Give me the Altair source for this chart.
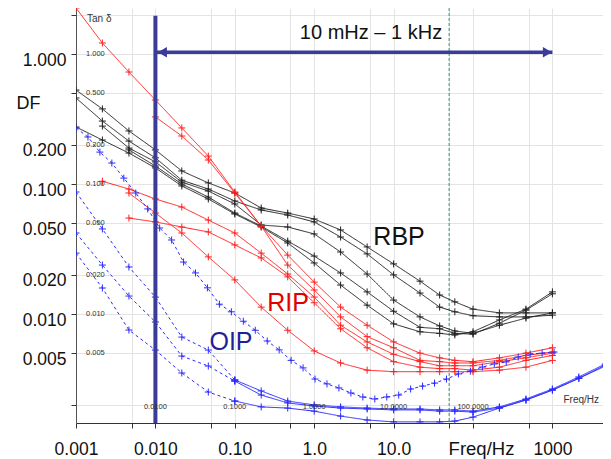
import altair as alt
import pandas as pd

FONT = "Liberation Sans"

# measurement frequencies (Hz), 3 points per decade (50 Hz region measured at 38 / 59 Hz)
FREQ = [0.001, 0.00215, 0.00464, 0.01, 0.0215, 0.0464, 0.1, 0.215, 0.464, 1.0, 2.15, 4.64,
        10.0, 21.5, 38.0, 59.0, 100.0, 215.0, 464.0, 1000.0, 2150.0, 4640.0]
# dense sweep (sqrt(2) steps) of the first OIP curve
FREQ_DENSE = [0.001, 0.001414, 0.002, 0.002828, 0.004, 0.005657, 0.008, 0.01131, 0.016, 0.02263,
              0.032, 0.04525, 0.064, 0.0905, 0.128, 0.181, 0.256, 0.362, 0.512, 0.724, 1.024,
              1.448, 2.048, 2.896, 4.096, 5.793, 8.192, 11.59, 16.38, 23.17, 32.77, 46.34,
              65.54, 92.68, 131.1, 185.4, 262.1, 370.7, 524.3, 741.5, 1048.6]

# RBP (black) – start index into FREQ, values
RBP_1_START, RBP_1 = 0, [0.528, 0.378, 0.256, 0.183, 0.126, 0.102, 0.0853, 0.0654, 0.0598, 0.0538,
                         0.0443, 0.0328, 0.0243, 0.0179, 0.014, 0.0124, 0.0109, 0.0102, 0.0102, 0.0102]
RBP_2_START, RBP_2 = 0, [0.459, 0.305, 0.214, 0.159, 0.107, 0.0915, 0.074, 0.0631, 0.0577, 0.0511,
                         0.0391, 0.029, 0.020, 0.0145, 0.0113, 0.0104, 0.0097, 0.0095, 0.0095, 0.0098]
RBP_3_START, RBP_3 = 1, [0.279, 0.189, 0.148, 0.1035, 0.0883, 0.0702, 0.0484, 0.0467, 0.0413, 0.030,
                         0.0203, 0.0128, 0.0095, 0.0081, 0.0074, 0.0071, 0.0082, 0.0093, 0.0102]
RBP_4_START, RBP_4 = 2, [0.183, 0.1375, 0.100, 0.0794, 0.0598, 0.0475, 0.0364, 0.0279, 0.0207, 0.0148,
                         0.0105, 0.0079, 0.0077, 0.0071, 0.0070, 0.0085, 0.0107, 0.0143]
RBP_5_START, RBP_5 = 0, [0.2745, 0.218, 0.173, 0.133, 0.0966, 0.0767, 0.0588, 0.0467, 0.0352, 0.0247,
                         0.0167, 0.0117, 0.0084, 0.0073, 0.0071, 0.0069, 0.0073, 0.0090, 0.0109, 0.0148]

# RIP (red)
RIP_1_START, RIP_1 = 0, [2.26, 1.215, 0.727, 0.443, 0.270, 0.164, 0.0868, 0.0475, 0.0284, 0.0176,
                         0.0113, 0.0082, 0.0061, 0.0050, 0.0046, 0.0044, 0.0043, 0.0046, 0.0050, 0.0055]
RIP_2_START, RIP_2 = 3, [0.328, 0.234, 0.153, 0.0853, 0.0475, 0.0238, 0.0153, 0.0095, 0.0067, 0.0055,
                         0.0044, 0.0043, 0.0042, 0.0042, 0.0044, 0.0048, 0.0051]
RIP_3_START, RIP_3 = 1, [0.105, 0.0915, 0.0767, 0.0665, 0.0528, 0.042, 0.0294, 0.0203, 0.0135, 0.0082,
                         0.0061, 0.0049, 0.0043, 0.0040, 0.0040, 0.0040, 0.0043, 0.0046, 0.0050]
RIP_4_START, RIP_4 = 2, [0.0853, 0.0598, 0.042, 0.0275, 0.0183, 0.0113, 0.0075, 0.0052, 0.0042, 0.0037,
                         0.0036, 0.0036, 0.0036, 0.0036, 0.0036, 0.0037, 0.0039, 0.0044]
RIP_5_START, RIP_5 = 2, [0.0547, 0.0511, 0.0467, 0.0428, 0.034, 0.027, 0.0193, 0.0122, 0.0077, 0.0055,
                         0.0043, 0.0039, 0.0038, 0.0038, 0.0037, 0.0039, 0.0044, 0.0048]

# OIP (blue)
OIP_1 = [0.270, 0.230, 0.176, 0.145, 0.111, 0.0853, 0.0643, 0.0459, 0.0371, 0.0251, 0.0207, 0.0159,
         0.0119, 0.0104, 0.0088, 0.0075, 0.0062, 0.0053, 0.0044, 0.00385, 0.00316, 0.0029, 0.0027,
         0.00247, 0.0023, 0.00222, 0.0023, 0.00238, 0.00265, 0.00279, 0.00294, 0.00316, 0.00346,
         0.00364, 0.00391, 0.00413, 0.00428, 0.00467, 0.00492, 0.0050, 0.0051]
OIP_2 = [0.0868, 0.0451, 0.023, 0.0135, 0.00665, 0.00528, 0.00311, 0.00256, 0.00214, 0.0020, 0.00193,
         0.00189, 0.00186, 0.00186, 0.00183, 0.00183, 0.00179, 0.00193, 0.00222, 0.00265, 0.00328, 0.00413]
OIP_3 = [0.042, 0.0238, 0.01375, 0.00868, 0.00475, 0.00398, 0.00305, 0.00238, 0.00207, 0.00196, 0.00189,
         0.00186, 0.00183, 0.00183, 0.00179, 0.00179, 0.00176, 0.00189, 0.00218, 0.0026, 0.0032, 0.00405]
OIP_4 = [0.0294, 0.01585, 0.00753, 0.00528, 0.00352, 0.00251, 0.00214, 0.00193, 0.00189, 0.00179, 0.00164,
         0.00153, 0.00148, 0.00148, 0.00148, 0.0015, 0.00161, 0.00189, 0.00218, 0.0026, 0.0032, 0.00398]
OIP_DASH_UNTIL = 6  # dashed up to 0.1 Hz, solid after

X_TICKS = [0.001, 0.005, 0.01, 0.05, 0.1, 0.5, 1, 5, 10, 50, 100, 500, 1000]
X_LABEL_VALUES = [0.001, 0.01, 0.1, 1, 10, 1000]
X_LABELS = ["0.001", "0.010", "0.10", "1.0", "10.0", "1000"]
Y_TICKS = [2, 1, 0.5, 0.2, 0.1, 0.05, 0.02, 0.01, 0.005, 0.002]
Y_LABEL_VALUES = [1, 0.2, 0.1, 0.05, 0.02, 0.01, 0.005]

INNER_Y_VALUES = [1, 0.5, 0.2, 0.1, 0.05, 0.02, 0.01, 0.005]
INNER_Y_LABELS = ["1.000", "0.500", "0.200", "0.100", "0.050", "0.020", "0.010", "0.005"]
INNER_X_VALUES = [0.01, 0.1, 1, 10, 100]
INNER_X_LABELS = ["0.0100", "0.1000", "1.0000", "10.0000", "100.0000"]

NAVY = "#3b3b99"

rows = []


def add(sid, grp, dash, freqs, vals, start=0):
    for j, v in enumerate(vals):
        rows.append({"f": freqs[start + j], "v": v, "sid": sid, "grp": grp, "dash": dash})


for i, (s, vals) in enumerate([(RBP_1_START, RBP_1), (RBP_2_START, RBP_2), (RBP_3_START, RBP_3),
                               (RBP_4_START, RBP_4), (RBP_5_START, RBP_5)]):
    add(f"B{i}", "RBP", "solid", FREQ, vals, s)
for i, (s, vals) in enumerate([(RIP_1_START, RIP_1), (RIP_2_START, RIP_2), (RIP_3_START, RIP_3),
                               (RIP_4_START, RIP_4), (RIP_5_START, RIP_5)]):
    add(f"R{i}", "RIP", "solid", FREQ, vals, s)
add("O1", "OIP", "dashed", FREQ_DENSE, OIP_1)
for i, vals in enumerate([OIP_2, OIP_3, OIP_4]):
    add(f"O{i}a", "OIP", "dashed", FREQ, vals[:OIP_DASH_UNTIL + 1], 0)
    add(f"O{i}b", "OIP", "solid", FREQ, vals[OIP_DASH_UNTIL:], OIP_DASH_UNTIL)
df = pd.DataFrame(rows)

x_expr = " : ".join(f"datum.value == {v} ? '{t}'" for v, t in zip(X_LABEL_VALUES, X_LABELS)) + " : ''"
y_expr = ("indexof([" + ",".join(str(v) for v in Y_LABEL_VALUES) +
          "], datum.value) >= 0 ? format(datum.value, '.3f') : ''")

xs = alt.Scale(type="log", domain=[0.001, 4335], nice=False)
ys = alt.Scale(type="log", domain=[0.001451, 2.259], nice=False)

xaxis = alt.Axis(values=X_TICKS, labelExpr=x_expr, labelFlush=False, labelOverlap=False,
                 labelFont=FONT, labelFontSize=17.5, labelColor="#111", labelPadding=12,
                 tickSize=5, tickColor="#333", domainColor="#333", gridColor="#e3e3e3",
                 title="Freq/Hz", titleFont=FONT, titleFontSize=18.5, titleFontWeight="normal",
                 titleColor="#111", titleX=405, titleY=16, titleBaseline="top", titleAlign="center")
yaxis = alt.Axis(values=Y_TICKS, labelExpr=y_expr, labelOverlap=False, labelFont=FONT,
                 labelFontSize=17.5, labelColor="#111", labelPadding=5, labelOffset=6,
                 tickSize=5, tickColor="#333", domainColor="#555", gridColor="#e3e3e3",
                 title="DF", titleFont=FONT, titleFontSize=18, titleFontWeight="normal",
                 titleColor="#111", titleAngle=0, titleX=-48, titleY=95, titleAlign="center",
                 titleBaseline="middle")

X = alt.X("f:Q", scale=xs, axis=xaxis)
Y = alt.Y("v:Q", scale=ys, axis=yaxis)

color = alt.Color("grp:N", scale=alt.Scale(domain=["RBP", "RIP", "OIP"],
                                           range=["#222222", "#ff2020", "#2a2aff"]), legend=None)
dash = alt.StrokeDash("dash:N", scale=alt.Scale(domain=["solid", "dashed"], range=[[1, 0], [3, 3]]),
                      legend=None)

CROSS = "M-1,0L1,0M0,-1L0,1"

green = alt.Chart(pd.DataFrame({"f": [50]})).mark_rule(
    color="#3f8f7a", strokeDash=[3, 2], strokeWidth=1).encode(x=X)

lines = alt.Chart(df).mark_line(strokeWidth=1, clip=True).encode(
    x=X, y=Y, color=color, strokeDash=dash, detail="sid:N", order="f:Q")
points = alt.Chart(df).mark_point(shape=CROSS, size=49, strokeWidth=1, filled=False,
                                  opacity=1, clip=True).encode(x=X, y=Y, color=color)

vline = alt.Chart(pd.DataFrame({"f": [0.01], "v": [1.97], "v2": [0.001451]})).mark_rule(
    color=NAVY, strokeWidth=4).encode(x=X, y=Y, y2="v2:Q")

arrow_df = pd.DataFrame({"f": [0.01], "f2": [1000], "v": [1.03]})
arrow = alt.Chart(arrow_df).mark_rule(color=NAVY, strokeWidth=3.5).encode(x=X, x2="f2:Q", y=Y)
head_l = alt.Chart(pd.DataFrame({"f": [0.01], "v": [1.03]})).mark_point(
    shape="triangle-left", filled=True, size=110, color=NAVY, opacity=1, xOffset=7).encode(x=X, y=Y)
head_r = alt.Chart(pd.DataFrame({"f": [1000], "v": [1.03]})).mark_point(
    shape="triangle-right", filled=True, size=110, color=NAVY, opacity=1, xOffset=-5).encode(x=X, y=Y)

inner_y = alt.Chart(pd.DataFrame({"f": [0.001] * len(INNER_Y_VALUES), "v": INNER_Y_VALUES,
                                  "t": INNER_Y_LABELS})).mark_text(
    align="left", baseline="middle", dx=10, font=FONT, fontSize=7.5, color="#333").encode(
    x=X, y=Y, text="t:N")
inner_x = alt.Chart(pd.DataFrame({"f": INNER_X_VALUES, "v": [0.002] * len(INNER_X_VALUES),
                                  "t": INNER_X_LABELS})).mark_text(
    align="center", baseline="middle", dy=2, font=FONT, fontSize=7.5, color="#333").encode(
    x=X, y=Y, text="t:N")
tan = alt.Chart(pd.DataFrame({"f": [0.001], "v": [2.0], "t": ["Tan δ"]})).mark_text(
    align="left", baseline="middle", dx=11, dy=4, font=FONT, fontSize=10, color="#333").encode(
    x=X, y=Y, text="t:N")
freq_small = alt.Chart(pd.DataFrame({"f": [4335], "v": [0.002], "t": ["Freq/Hz"]})).mark_text(
    align="right", baseline="middle", dx=-4, dy=-5, font=FONT, fontSize=10, color="#333").encode(
    x=X, y=Y, text="t:N")

big = pd.DataFrame({
    "f": [11.7, 0.468, 0.0895],
    "v": [0.0391, 0.01216, 0.0061],
    "t": ["RBP", "RIP", "OIP"],
    "grp": ["RBP", "RIP", "OIP"],
})
big_text = alt.Chart(big).mark_text(align="center", baseline="middle", font=FONT, fontSize=25).encode(
    x=X, y=Y, text="t:N",
    color=alt.Color("grp:N", scale=alt.Scale(domain=["RBP", "RIP", "OIP"],
                                             range=["#111111", "#e00000", "#1f1f99"]), legend=None))
range_text = alt.Chart(pd.DataFrame({"f": [5.19], "v": [1.45], "t": ["10 mHz – 1 kHz"]})).mark_text(
    align="center", baseline="middle", font=FONT, fontSize=20, color="#111").encode(
    x=X, y=Y, text="t:N")

chart = alt.layer(
    green, lines, points, vline, arrow, head_l, head_r,
    inner_y, inner_x, tan, freq_small, big_text, range_text
).resolve_scale(color="independent").properties(
    width=527, height=415,
    padding={"left": 68, "top": 0, "right": 0, "bottom": 36},
    autosize=alt.AutoSizeParams(type="none"),
    background="white",
).configure_view(strokeWidth=0)

chart.save("out.html", embed_options={"renderer": "svg", "actions": False})
